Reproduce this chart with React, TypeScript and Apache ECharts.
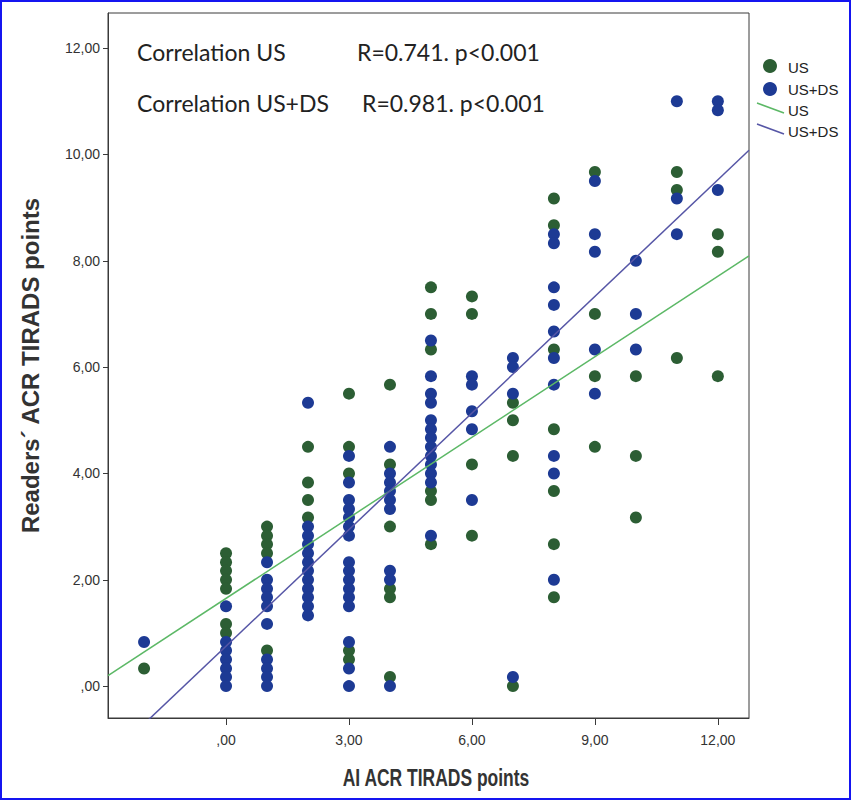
import React, { useEffect, useRef } from "react";
import * as echarts from "echarts";

// AI ACR TIRADS points (x categories of the scatter columns)
const aiScores = [-2, 0, 1, 2, 3, 4, 5, 6, 7, 8, 9, 10, 11, 12];

// Readers' ACR TIRADS points – US only
const usReaders: number[][] = [
  [0.33],
  [2.5, 2.33, 2.17, 2.0, 1.83, 1.17, 1.0],
  [3.0, 2.83, 2.67, 2.5, 0.67],
  [4.5, 3.83, 3.5, 3.17],
  [5.5, 4.5, 4.0, 0.67, 0.5],
  [5.67, 4.17, 3.0, 1.83, 1.67, 0.17],
  [7.5, 7.0, 6.33, 3.67, 3.5, 2.67],
  [7.33, 7.0, 4.17, 2.83],
  [5.33, 5.0, 4.33, 0.0],
  [9.17, 8.67, 6.33, 4.83, 3.67, 2.67, 1.67],
  [9.67, 7.0, 5.83, 4.5],
  [5.83, 4.33, 3.17],
  [9.67, 9.33, 6.17],
  [8.5, 8.17, 5.83],
];

// Readers' ACR TIRADS points – US+DS
const usDsReaders: number[][] = [
  [0.83],
  [1.5, 0.83, 0.67, 0.5, 0.33, 0.17, 0.0],
  [2.33, 2.0, 1.83, 1.67, 1.5, 1.17, 0.5, 0.33, 0.17, 0.0],
  [5.33, 3.0, 2.83, 2.67, 2.5, 2.33, 2.17, 2.0, 1.83, 1.67, 1.5, 1.33],
  [4.33, 3.83, 3.5, 3.33, 3.17, 3.0, 2.83, 2.33, 2.17, 2.0, 1.83, 1.67, 1.5, 0.83, 0.33, 0.0],
  [4.5, 4.0, 3.83, 3.67, 3.5, 3.33, 2.17, 2.0, 0.0],
  [6.5, 5.83, 5.5, 5.33, 5.0, 4.83, 4.67, 4.5, 4.33, 4.17, 4.0, 3.83, 2.83],
  [5.83, 5.67, 5.17, 4.83, 3.5],
  [6.17, 6.0, 5.5, 0.17],
  [8.5, 8.33, 7.5, 7.17, 6.67, 6.17, 5.67, 4.33, 4.0, 2.0],
  [9.5, 8.5, 8.17, 6.33, 5.5],
  [8.0, 7.0, 6.33],
  [11.0, 9.17, 8.5],
  [11.0, 10.83, 9.33],
];

// Linear fits: [intercept, slope]
const usFit = [1.65, 0.505];
const usDsFit = [0.75, 0.731];

const xTicks = [0, 3, 6, 9, 12];
const yTicks = [0, 2, 4, 6, 8, 10, 12];
const xRange = [-2.88, 12.76];
const yRange = [-0.6, 12.66];

const seriesNames = ["US", "US+DS"];
const corrLabels = ["Correlation US", "Correlation US+DS"];
const corrValues = ["R=0.741. p<0.001", "R=0.981. p<0.001"];
const xTitle = "AI ACR TIRADS points";
const yTitle = "Readers\u00b4 ACR TIRADS points";

const GREEN = "#2c5e34";
const BLUE = "#1d3a94";
const GREEN_LINE = "#5cb866";
const BLUE_LINE = "#5656a6";

const toPoints = (rows: number[][]) =>
  rows.flatMap((vals, i) => vals.map((v) => [aiScores[i], v]));

const fitLine = (fit: number[]) =>
  xRange.map((x) => [x, fit[0] + fit[1] * x]);

const fmt = (v: number) => v.toFixed(2).replace(".", ",").replace(/^0,/, ",");

const SANS = "'Liberation Sans', Arial, sans-serif";
const CORR_FONT = "23px Lato, 'Open Sans', sans-serif";

export default function App() {
  const ref = useRef<HTMLDivElement>(null);
  useEffect(() => {
    document.body.style.margin = "0";
    const chart = echarts.init(ref.current!, null, { renderer: "svg" });
    const corrText = (text: string, x: number, y: number) => ({
      type: "text",
      x,
      y,
      style: { text, font: CORR_FONT, fill: "#222", verticalAlign: "middle", align: "left" },
    });
    const legendText = (text: string, y: number) => ({
      type: "text",
      x: 788,
      y,
      style: { text, font: "15px " + SANS, fill: "#222", verticalAlign: "middle", align: "left" },
    });
    chart.setOption({
      animation: false,
      backgroundColor: "#ffffff",
      grid: {
        left: 108,
        top: 13,
        right: 102,
        bottom: 82,
        show: true,
        borderColor: "#3a3a3a",
        borderWidth: 1,
      },
      xAxis: {
        type: "value",
        min: xRange[0],
        max: xRange[1],
        axisLine: { show: true, onZero: false, lineStyle: { color: "#3a3a3a", width: 1 } },
        axisTick: { show: true, length: 7, customValues: xTicks, lineStyle: { color: "#3a3a3a" } },
        axisLabel: {
          customValues: xTicks,
          formatter: fmt,
          margin: 15,
          fontFamily: SANS,
          fontSize: 14,
          color: "#333",
        },
        splitLine: { show: false },
      },
      yAxis: {
        type: "value",
        min: yRange[0],
        max: yRange[1],
        name: yTitle,
        nameLocation: "middle",
        nameGap: 66,
        nameRotate: 90,
        nameTextStyle: { fontFamily: SANS, fontWeight: "bold", fontSize: 24, color: "#333" },
        axisLine: { show: true, onZero: false, lineStyle: { color: "#3a3a3a", width: 1 } },
        axisTick: { show: true, length: 5, customValues: yTicks, lineStyle: { color: "#3a3a3a" } },
        axisLabel: {
          customValues: yTicks,
          formatter: fmt,
          margin: 8,
          fontFamily: SANS,
          fontSize: 14,
          color: "#333",
        },
        splitLine: { show: false },
      },
      series: [
        {
          name: seriesNames[0],
          type: "scatter",
          symbol: "circle",
          symbolSize: 12,
          itemStyle: { color: GREEN, opacity: 1 },
          data: toPoints(usReaders),
          z: 2,
        },
        {
          name: seriesNames[1],
          type: "scatter",
          symbol: "circle",
          symbolSize: 12,
          itemStyle: { color: BLUE, opacity: 1 },
          data: toPoints(usDsReaders),
          z: 3,
        },
        {
          name: seriesNames[0] + " fit",
          type: "line",
          data: fitLine(usFit),
          showSymbol: false,
          clip: true,
          lineStyle: { color: GREEN_LINE, width: 1.5 },
          z: 4,
        },
        {
          name: seriesNames[1] + " fit",
          type: "line",
          data: fitLine(usDsFit),
          showSymbol: false,
          clip: true,
          lineStyle: { color: BLUE_LINE, width: 1.5 },
          z: 4,
        },
      ],
      graphic: [
        {
          type: "rect",
          shape: { x: 1, y: 1, width: 849, height: 798 },
          style: { fill: "none", stroke: "#1515f0", lineWidth: 2 },
          silent: true,
        },
        corrText(corrLabels[0], 137, 52),
        corrText(corrValues[0], 357, 52),
        corrText(corrLabels[1], 137, 103),
        corrText(corrValues[1], 362, 103),
        {
          type: "text",
          x: 436,
          y: 778,
          scaleX: 0.76,
          style: {
            text: xTitle,
            font: "bold 23px " + SANS,
            fill: "#333",
            align: "center",
            verticalAlign: "middle",
          },
        },
        // legend
        { type: "circle", shape: { cx: 770, cy: 66, r: 7 }, style: { fill: GREEN } },
        { type: "circle", shape: { cx: 770, cy: 89, r: 7 }, style: { fill: BLUE } },
        { type: "line", shape: { x1: 757, y1: 103, x2: 784, y2: 113 }, style: { stroke: GREEN_LINE, lineWidth: 1.5 } },
        { type: "line", shape: { x1: 757, y1: 124, x2: 784, y2: 134 }, style: { stroke: BLUE_LINE, lineWidth: 1.5 } },
        legendText(seriesNames[0], 67),
        legendText(seriesNames[1], 89),
        legendText(seriesNames[0], 110),
        legendText(seriesNames[1], 131),
      ],
    });
    return () => chart.dispose();
  }, []);
  return <div ref={ref} style={{ width: 851, height: 800 }} />;
}
